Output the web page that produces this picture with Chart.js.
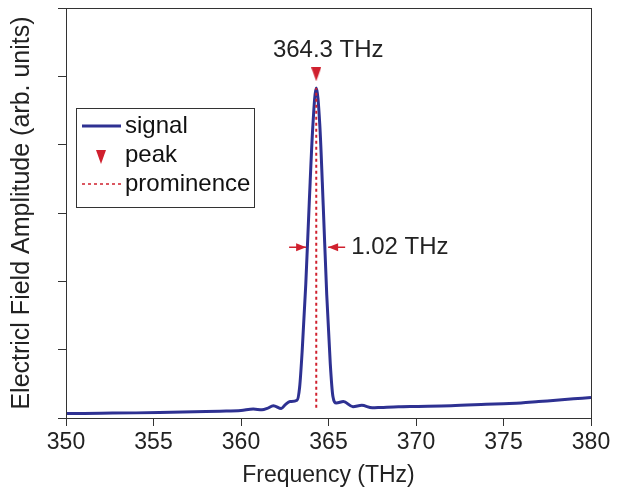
<!DOCTYPE html>
<html>
<head>
<meta charset="utf-8">
<script src="https://cdn.jsdelivr.net/npm/chart.js@4"></script>
<style>
  body { margin: 0; background: #fff; }
</style>
</head>
<body>
<canvas class="js-chart" width="623" height="493"></canvas>
<script>
const ctx = document.querySelector(".js-chart").getContext("2d");

const BLUE = "#2e3192";
const RED = "#d0202e";
const FONT = "'Liberation Sans', Arial, Helvetica, sans-serif";

// signal
const freq = [
  350, 352, 354, 356, 358, 358.8, 360, 360.7, 361.2, 361.5, 361.85, 362.3,
  362.55, 362.8, 363.2, 363.35, 363.5, 363.7, 363.9, 364.1, 364.3, 364.5,
  364.7, 364.9, 365.1, 365.25, 365.45, 365.85, 366.4, 366.9, 367.5, 368,
  369, 370, 372, 374, 375, 376, 377, 378, 379, 380,
];
const amplitude = [
  0.065, 0.07, 0.075, 0.085, 0.095, 0.1, 0.11, 0.13, 0.12, 0.14, 0.18, 0.14,
  0.2, 0.24, 0.26, 0.45, 1.0, 1.95, 3.15, 4.25, 4.83, 4.3, 3.1, 1.8, 0.8,
  0.32, 0.22, 0.24, 0.165, 0.185, 0.15, 0.155, 0.165, 0.17, 0.18, 0.2,
  0.21, 0.22, 0.24, 0.26, 0.28, 0.3,
];

const peakFreq = 364.3;
const peakValue = 4.83;
const peakMarkerLevel = 5.03;
const prominenceBase = 0.15;
const widthLevel = 2.5;
const widthEdges = [363.72, 364.98];
const peakLabel = "364.3 THz";
const widthLabel = "1.02 THz";

const xTicks = [350, 355, 360, 365, 370, 375, 380];

// narrow down-pointing triangle for the peak marker
const triangle = document.createElement("canvas");
triangle.width = 10;
triangle.height = 14;
(function () {
  const t = triangle.getContext("2d");
  t.fillStyle = RED;
  t.beginPath();
  t.moveTo(0, 0);
  t.lineTo(10, 0);
  t.lineTo(5, 14);
  t.closePath();
  t.fill();
})();

function arrowHead(c, x, y, dir) {
  c.beginPath();
  c.moveTo(x, y);
  c.lineTo(x - dir * 10, y - 4);
  c.lineTo(x - dir * 10, y + 4);
  c.closePath();
  c.fill();
}

const extras = {
  id: "extras",
  afterDatasetsDraw(chart) {
    const { ctx: c, chartArea: a, scales } = chart;
    const x = scales.x;
    const y = scales.y;
    c.save();

    // frame
    c.strokeStyle = "#333";
    c.lineWidth = 1;
    c.strokeRect(a.left + 0.5, a.top + 0.5, a.right - a.left, a.bottom - a.top);

    // peak label
    c.fillStyle = "#222";
    c.font = "24px " + FONT;
    c.textAlign = "center";
    c.textBaseline = "middle";
    c.fillText(peakLabel, x.getPixelForValue(peakFreq) + 12, 50);

    // width arrows
    const wy = y.getPixelForValue(widthLevel);
    const xl = x.getPixelForValue(widthEdges[0]);
    const xr = x.getPixelForValue(widthEdges[1]);
    c.strokeStyle = RED;
    c.fillStyle = RED;
    c.lineWidth = 1.5;
    c.beginPath();
    c.moveTo(xl - 17, wy);
    c.lineTo(xl, wy);
    c.moveTo(xr, wy);
    c.lineTo(xr + 17, wy);
    c.stroke();
    arrowHead(c, xl, wy, 1);
    arrowHead(c, xr, wy, -1);

    c.fillStyle = "#222";
    c.textAlign = "left";
    c.fillText(widthLabel, xr + 23, wy);

    // legend
    const lx = 76, ly = 108, lw = 178, lh = 99;
    c.fillStyle = "#fff";
    c.fillRect(lx, ly, lw, lh);
    c.strokeStyle = "#333";
    c.lineWidth = 1;
    c.strokeRect(lx + 0.5, ly + 0.5, lw, lh);

    c.strokeStyle = BLUE;
    c.lineWidth = 3;
    c.beginPath();
    c.moveTo(82, 126);
    c.lineTo(121, 126);
    c.stroke();

    c.drawImage(triangle, 96, 150);

    c.strokeStyle = RED;
    c.lineWidth = 1.5;
    c.setLineDash([3, 3]);
    c.beginPath();
    c.moveTo(82, 184);
    c.lineTo(121, 184);
    c.stroke();
    c.setLineDash([]);

    c.fillStyle = "#111";
    c.font = "24px " + FONT;
    c.textAlign = "left";
    c.textBaseline = "middle";
    chart.data.datasets.forEach((ds, i) => {
      c.fillText(ds.label, 125, 126 + i * 29);
    });

    c.restore();
  },
};

new Chart(ctx, {
  type: "line",
  data: {
    datasets: [
      {
        label: "signal",
        data: freq.map((f, i) => ({ x: f, y: amplitude[i] })),
        borderColor: BLUE,
        borderWidth: 3,
        pointRadius: 0,
        cubicInterpolationMode: "monotone",
        order: 2,
      },
      {
        label: "peak",
        data: [{ x: peakFreq, y: peakMarkerLevel }],
        showLine: false,
        pointStyle: triangle,
        pointRadius: 7,
        order: 0,
      },
      {
        label: "prominence",
        data: [
          { x: peakFreq, y: prominenceBase },
          { x: peakFreq, y: peakValue },
        ],
        borderColor: RED,
        borderWidth: 2,
        borderDash: [3, 3],
        pointRadius: 0,
        order: 1,
      },
    ],
  },
  options: {
    responsive: false,
    animation: false,
    layout: { padding: { left: 3, top: 8, right: 32, bottom: 0 } },
    plugins: {
      legend: { display: false },
      tooltip: { enabled: false },
    },
    scales: {
      x: {
        type: "linear",
        min: 350,
        max: 380,
        afterBuildTicks(scale) {
          scale.ticks = xTicks.map((v) => ({ value: v }));
        },
        afterFit(scale) {
          scale.height = 75;
        },
        border: { color: "#333", width: 1 },
        grid: { drawOnChartArea: false, tickLength: 8, color: "#333" },
        ticks: {
          color: "#222",
          font: { family: FONT, size: 23 },
          maxRotation: 0,
          padding: 3,
        },
        title: {
          display: true,
          text: "Frequency (THz)",
          color: "#222",
          font: { family: FONT, size: 23 },
        },
      },
      y: {
        min: 0,
        max: 6,
        afterFit(scale) {
          scale.width = 63;
        },
        border: { color: "#333", width: 1 },
        grid: { drawOnChartArea: false, tickLength: 8, color: "#333" },
        ticks: { stepSize: 1, display: false },
        title: {
          display: true,
          text: "Electricl Field Amplitude (arb. units)",
          color: "#222",
          font: { family: FONT, size: 25 },
        },
      },
    },
  },
  plugins: [extras],
});
</script>
</body>
</html>
